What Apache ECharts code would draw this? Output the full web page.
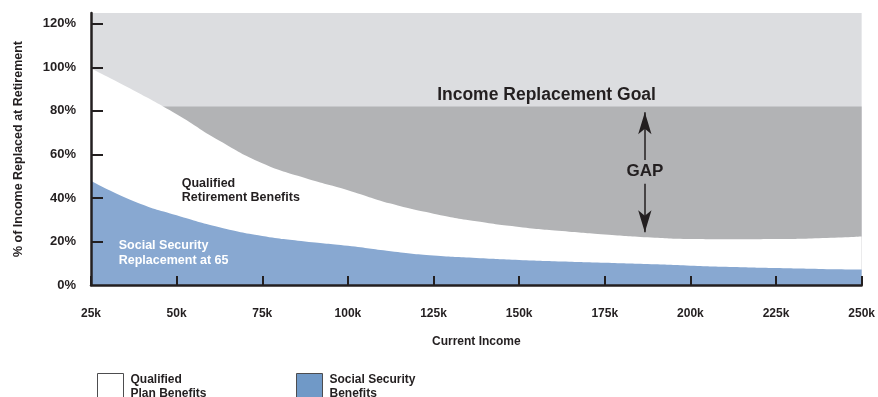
<!DOCTYPE html>
<html>
<head>
<meta charset="utf-8">
<script src="https://cdn.jsdelivr.net/npm/echarts@6/dist/echarts.min.js"></script>
<style>
  html, body { margin: 0; padding: 0; background: #fff; }
  #chart { width: 878px; height: 397px; }
</style>
</head>
<body>
<div id="chart"></div>
<script>
// 收入（千美元）
const incomes = [25, 37.5, 50, 62.5, 75, 87.5, 100, 112.5, 125, 137.5, 150, 162.5, 175, 187.5, 200, 212.5, 225, 237.5, 250];
// 合格计划 + 社保 合计替代率（%）
const qualifiedTotal = [99.5, 89.4, 78.5, 66.3, 56, 49.2, 43.6, 37.4, 32.8, 29.3, 26.7, 24.8, 23.2, 21.9, 21.1, 21.0, 21.1, 21.5, 22.3];
// 社保替代率（%）
const socialSecurity = [47.9, 38.5, 32, 26.5, 22.5, 20, 18, 15.5, 13.5, 12.4, 11.5, 10.8, 10.2, 9.6, 8.9, 8.3, 7.8, 7.4, 7.1];
// 收入替代目标（%）
const goalLevel = 82;
const goalRange = [25, 250];
const xTicks = [25, 50, 75, 100, 125, 150, 175, 200, 225, 250];
const yTicks = [0, 20, 40, 60, 80, 100, 120];
const legendLabels = {
  "Qualified Plan Benefits": "Qualified\nPlan Benefits",
  "Social Security Benefits": "Social Security\nBenefits",
};

const ink = "#231f20";
const font = "Liberation Sans";

const zip = (xs, ys) => xs.map((x, i) => [x, ys[i]]);

const chart = echarts.init(document.getElementById("chart"));

const legendText = { fontFamily: font, fontSize: 12, fontWeight: "bold", color: ink, lineHeight: 14.5, padding: [0, 0, 0, 2] };

const option = {
  animation: false,
  textStyle: { fontFamily: font, color: ink },
  grid: {
    left: 91,
    right: 16,
    top: 13,
    bottom: 112,
    show: true,
    backgroundColor: "#dcdde0",
    borderWidth: 0,
  },
  legend: [
    {
      data: ["Qualified Plan Benefits"],
      left: 92,
      top: 367,
      icon: "rect",
      itemWidth: 26,
      itemHeight: 26,
      selectedMode: false,
      itemStyle: { borderColor: "#4d4d4f", borderWidth: 1 },
      formatter: (name) => legendLabels[name],
      textStyle: legendText,
    },
    {
      data: ["Social Security Benefits"],
      left: 291,
      top: 367,
      icon: "rect",
      itemWidth: 26,
      itemHeight: 26,
      selectedMode: false,
      itemStyle: { borderColor: "#4d4d4f", borderWidth: 1 },
      formatter: (name) => legendLabels[name],
      textStyle: legendText,
    },
  ],
  xAxis: {
    type: "value",
    z: 10,
    min: xTicks[0],
    max: xTicks[xTicks.length - 1],
    interval: 25,
    name: "Current Income",
    nameLocation: "middle",
    nameGap: 51,
    nameTextStyle: { fontFamily: font, fontSize: 12, fontWeight: "bold", color: ink },
    axisLine: { lineStyle: { color: ink, width: 2.5 } },
    axisTick: { inside: true, length: 9, lineStyle: { color: ink, width: 2 } },
    axisLabel: { margin: 23, fontFamily: font, fontSize: 12, fontWeight: "bold", color: ink, formatter: "{value}k" },
    splitLine: { show: false },
  },
  yAxis: {
    type: "value",
    z: 10,
    min: 0,
    max: 125,
    name: "% of Income Replaced at Retirement",
    nameLocation: "middle",
    nameRotate: 90,
    nameGap: 66,
    nameTextStyle: { fontFamily: font, fontSize: 12.5, fontWeight: "bold", color: ink },
    axisLine: { show: true, lineStyle: { color: ink, width: 2.5 } },
    axisTick: { show: true, inside: true, length: 12, customValues: yTicks.slice(1), lineStyle: { color: ink, width: 2 } },
    axisLabel: { margin: 15, fontFamily: font, fontSize: 13, fontWeight: "bold", color: ink, customValues: yTicks, formatter: "{value}%" },
    splitLine: { show: false },
  },
  series: [
    {
      // 目标与实际之间的差距（深灰）
      name: "Income Replacement Goal",
      type: "line",
      color: "#b2b3b5",
      z: 1,
      symbol: "none",
      lineStyle: { width: 0 },
      areaStyle: { color: "#b2b3b5", opacity: 1 },
      data: goalRange.map((x) => [x, goalLevel]),
    },
    {
      name: "Qualified Plan Benefits",
      type: "line",
      color: "#ffffff",
      z: 2,
      symbol: "none",
      smooth: 0.5,
      lineStyle: { width: 0 },
      areaStyle: { color: "#ffffff", opacity: 1 },
      data: zip(incomes, qualifiedTotal),
    },
    {
      name: "Social Security Benefits",
      type: "line",
      color: "#7099c7",
      z: 3,
      symbol: "none",
      smooth: 0.5,
      lineStyle: { width: 0 },
      areaStyle: { color: "#88a8d1", opacity: 1 },
      data: zip(incomes, socialSecurity),
      markLine: {
        silent: true,
        symbol: ["none", "arrow"],
        label: { show: false },
        lineStyle: { color: ink, width: 1.5, type: "solid" },
        data: [
          [{ coord: [186.7, 57.5], symbol: "none" }, { coord: [186.7, 79.4], symbol: "arrow", symbolSize: [10, 22] }],
          [{ coord: [186.7, 46.5], symbol: "none" }, { coord: [186.7, 24.2], symbol: "arrow", symbolSize: [10, 22] }],
        ],
      },
      markPoint: {
        silent: true,
        symbol: "rect",
        symbolSize: 0,
        data: [
          {
            coord: [158, 87.3],
            label: { show: true, position: "inside", formatter: "Income Replacement Goal", fontFamily: font, fontSize: 17.5, fontWeight: "bold", color: ink },
          },
          {
            coord: [186.7, 52.2],
            label: { show: true, position: "inside", formatter: "GAP", fontFamily: font, fontSize: 17, fontWeight: "bold", color: ink },
          },
          {
            coord: [51.5, 43.4],
            label: { show: true, position: "right", distance: 0, formatter: "Qualified\nRetirement Benefits", fontFamily: font, fontSize: 12.5, fontWeight: "bold", lineHeight: 14.6, color: ink },
          },
          {
            coord: [33.1, 14.8],
            label: { show: true, position: "right", distance: 0, formatter: "Social Security\nReplacement at 65", fontFamily: font, fontSize: 12.5, fontWeight: "bold", lineHeight: 15.3, color: "#ffffff" },
          },
        ],
      },
    },
  ],
};

chart.setOption(option);

window.addEventListener("resize", () => {
  chart.resize();
});
</script>
</body>
</html>
